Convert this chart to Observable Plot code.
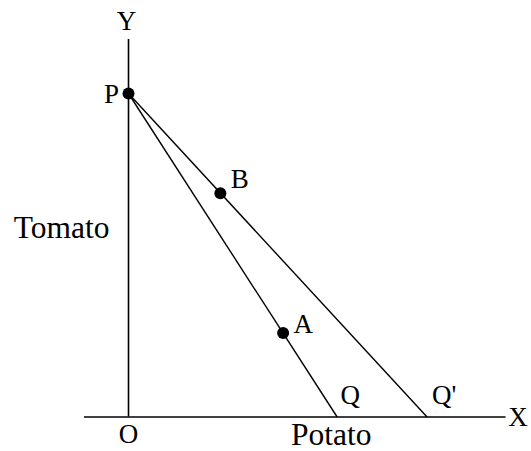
<!DOCTYPE html>
<html>
<head>
<meta charset="utf-8">
<script src="https://cdn.jsdelivr.net/npm/d3@7"></script>
<script src="https://cdn.jsdelivr.net/npm/@observablehq/plot@0.6"></script>
<style>html, body { margin: 0; padding: 0; background: #fff; }</style>
</head>
<body>
<div id="c"></div>
<script>
// Budget line diagram data (in goods units)
const tomatoIntercept = 10;            // point P on the Y axis
const potatoIntercepts = [6.45, 9.23]; // Q and Q'
const interceptNames = ["Q", "Q'"];
const pointNames = ["P", "B", "A"];
const pointX = [0, 2.84, 4.78];
const pointY = [10, 6.92, 2.6];
const axisMax = 11.67;                 // axis extent
const xAxisMin = -1.36;
const axisNames = ["Y", "X", "O"];
const xLabel = "Potato";
const yLabel = "Tomato";

const points = pointNames.map((n, i) => ({name: n, x: pointX[i], y: pointY[i]}));
const intercepts = interceptNames.map((n, i) => ({name: n, x: potatoIntercepts[i]}));

const serifFont = "Liberation Serif";
const letterSize = 27;
const wordSize = 31.5;

const ppu = 32.35;
const xDomain = [-128 / ppu, (531 - 128) / ppu];
const yDomain = [-(451 - 416.5) / ppu, 416.5 / ppu];

const pointOffsets = {P: [-17, 1], B: [19.5, -13.5], A: [20, -9]};
const interceptOffsets = {"Q": [13, -21.5], "Q'": [17, -21.5]};

const marks = [
  Plot.ruleX([0], {y1: 0, y2: axisMax, stroke: "black", strokeWidth: 1.6}),
  Plot.ruleY([0], {x1: xAxisMin, x2: axisMax, stroke: "black", strokeWidth: 1.6}),
  Plot.link(intercepts, {x1: 0, y1: tomatoIntercept, x2: "x", y2: 0, stroke: "black", strokeWidth: 1.4}),
  Plot.dot(points, {x: "x", y: "y", r: 6, fill: "black"}),
];
for (const p of points) {
  const [dx, dy] = pointOffsets[p.name];
  marks.push(Plot.text([p], {x: "x", y: "y", text: d => d.name, dx, dy, fontSize: letterSize, fontFamily: serifFont}));
}
for (const q of intercepts) {
  const [dx, dy] = interceptOffsets[q.name];
  marks.push(Plot.text([q], {x: "x", y: () => 0, text: d => d.name, dx, dy, fontSize: letterSize, fontFamily: serifFont}));
}
marks.push(
  Plot.text([axisNames[0]], {x: () => 0, y: () => axisMax, text: d => d, dx: -2, dy: -18.5, fontSize: letterSize, fontFamily: serifFont}),
  Plot.text([axisNames[1]], {x: () => axisMax, y: () => 0, text: d => d, dx: 12, dy: 0, fontSize: letterSize, fontFamily: serifFont}),
  Plot.text([axisNames[2]], {x: () => 0, y: () => 0, text: d => d, dx: 0, dy: 17, fontSize: letterSize, fontFamily: serifFont}),
  Plot.text([yLabel], {x: () => 0, y: () => 5.83, text: d => d, dx: -19, textAnchor: "end", fontSize: wordSize, fontFamily: serifFont}),
  Plot.text([xLabel], {x: () => 6.27, y: () => 0, text: d => d, dy: 17.5, fontSize: wordSize, fontFamily: serifFont})
);

const chart = Plot.plot({
  width: 531,
  height: 451,
  margin: 0,
  x: {domain: xDomain, axis: null},
  y: {domain: yDomain, axis: null},
  marks
});
chart.querySelectorAll("text").forEach(t => t.style.setProperty("font-family", "'Liberation Serif', serif", "important"));
document.getElementById("c").append(chart);
getComputedStyle(chart.querySelector("text")).fontFamily;
// white-on-white HTML text in an empty corner so the serif face is loaded for the page
const warm = document.createElement("div");
warm.style.cssText = "position:absolute;left:300px;top:120px;font-size:24px;font-family:'Liberation Serif';color:#fff;";
warm.textContent = "Tomato";
document.body.append(warm);
</script>
</body>
</html>
